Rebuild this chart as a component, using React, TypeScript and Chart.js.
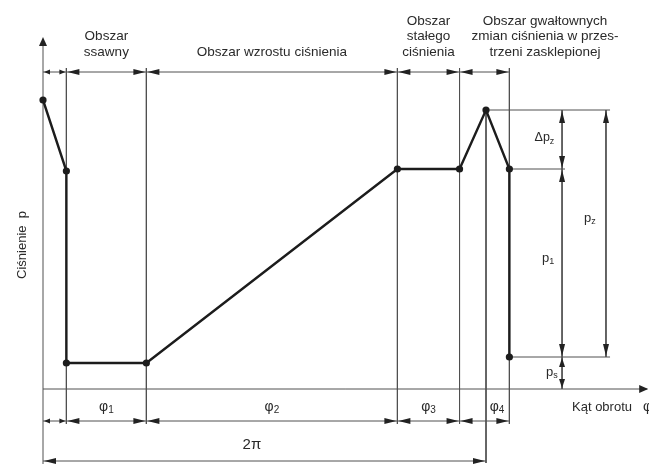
import React, { useEffect, useRef } from "react";
import { Chart, registerables } from "chart.js";

Chart.register(...registerables);

// rotation angle in degrees (2π = 360), pressure in arbitrary units
const phaseBounds = [0, 19, 84, 288, 338.5, 379];
const fullTurn = 360;
const curveAngle = [0, 19, 19, 84, 288, 338.5, 360, 379, 379];
const curvePressure = [28.9, 21.8, 2.6, 2.6, 22.0, 22.0, 27.9, 22.0, 3.2];
const pressurePeak = 27.9; // p_z level
const pressureP1 = 22.0; // p_1 level
const pressurePs = 3.2; // p_s level
const phaseLabels = ["1", "2", "3", "4"];
const regionLabels = [
  ["Obszar", "ssawny"],
  ["Obszar wzrostu ciśnienia"],
  ["Obszar", "stałego", "ciśnienia"],
  ["Obszar gwałtownych", "zmian ciśnienia w przes-", "trzeni zasklepionej"],
];
const axisTitleY = "Ciśnienie  p";
const axisTitleX = "Kąt obrotu";

const K = 443 / 360;
const X_MIN = -43 / K;
const X_MAX = 606 / K;
const Y_MIN = -7.5;
const Y_MAX = 38.9;

const FONT = '"Liberation Sans", Arial, sans-serif';
const TXT = "#2a2a2a";
const LINE = "#505050";

type P = { x: number; y: number | null };

function seg(arr: P[], x1: number, y1: number, x2: number, y2: number) {
  arr.push({ x: x1, y: y1 }, { x: x2, y: y2 }, { x: x2, y: null });
}

function buildGuides(): P[] {
  const g: P[] = [];
  // y axis
  seg(g, 0, Y_MIN, 0, 34.6);
  // x axis
  seg(g, 0, 0, 491, 0);
  // extension lines of phase bounds
  phaseBounds.slice(1).forEach((b) => seg(g, b, 32.1, b, -3.5));
  // peak extension (2π)
  seg(g, fullTurn, pressurePeak, fullTurn, -7.4);
  // top and bottom dimension lines
  seg(g, phaseBounds[0], 31.7, phaseBounds[phaseBounds.length - 1], 31.7);
  seg(g, phaseBounds[0], -3.2, phaseBounds[phaseBounds.length - 1], -3.2);
  seg(g, 0, -7.2, fullTurn, -7.2);
  // right side extension lines
  seg(g, fullTurn + 2, pressurePeak, 460.8, pressurePeak);
  seg(g, 379, pressureP1, 424.2, pressureP1);
  seg(g, 379, pressurePs, 460.8, pressurePs);
  // vertical dimension lines
  seg(g, 421.8, pressurePeak, 421.8, 0);
  seg(g, 457.5, pressurePeak, 457.5, pressurePs);
  return g;
}

function arrowHead(
  ctx: CanvasRenderingContext2D,
  tx: number,
  ty: number,
  dir: "l" | "r" | "u" | "d",
  len: number,
  half: number
) {
  ctx.beginPath();
  ctx.moveTo(tx, ty);
  if (dir === "l") {
    ctx.lineTo(tx + len, ty - half);
    ctx.lineTo(tx + len, ty + half);
  } else if (dir === "r") {
    ctx.lineTo(tx - len, ty - half);
    ctx.lineTo(tx - len, ty + half);
  } else if (dir === "u") {
    ctx.lineTo(tx - half, ty + len);
    ctx.lineTo(tx + half, ty + len);
  } else {
    ctx.lineTo(tx - half, ty - len);
    ctx.lineTo(tx + half, ty - len);
  }
  ctx.closePath();
  ctx.fill();
}

function subText(
  ctx: CanvasRenderingContext2D,
  main: string,
  sub: string,
  cx: number,
  cy: number,
  size: number,
  align: "center" | "left" | "right" = "center"
) {
  ctx.font = `${size}px ${FONT}`;
  const w1 = ctx.measureText(main).width;
  ctx.font = `${Math.round(size * 0.72)}px ${FONT}`;
  const w2 = ctx.measureText(sub).width;
  const tot = w1 + w2;
  let x0 = cx - tot / 2;
  if (align === "left") x0 = cx;
  if (align === "right") x0 = cx - tot;
  ctx.textAlign = "left";
  ctx.textBaseline = "middle";
  ctx.font = `${size}px ${FONT}`;
  ctx.fillText(main, x0, cy);
  ctx.font = `${Math.round(size * 0.72)}px ${FONT}`;
  ctx.fillText(sub, x0 + w1, cy + size * 0.25);
}

const annotations = {
  id: "annotations",
  afterDatasetsDraw(chart: any) {
    const ctx: CanvasRenderingContext2D = chart.ctx;
    const xs = chart.scales.x;
    const ys = chart.scales.y;
    const px = (v: number) => xs.getPixelForValue(v);
    const py = (v: number) => ys.getPixelForValue(v);
    ctx.save();
    ctx.fillStyle = "#222";

    // axis arrows
    arrowHead(ctx, px(0), py(35.2), "u", 9, 4);
    arrowHead(ctx, px(491.8), py(0), "r", 9, 4);

    // horizontal dimension chains
    const dimH = (a: number, b: number, y: number) => {
      const len = Math.abs(px(b) - px(a)) < 30 ? 6 : 12;
      const half = Math.abs(px(b) - px(a)) < 30 ? 2.5 : 3;
      arrowHead(ctx, px(a) + 1, py(y), "l", len, half);
      arrowHead(ctx, px(b) - 1, py(y), "r", len, half);
    };
    for (let i = 0; i < phaseBounds.length - 1; i++) {
      dimH(phaseBounds[i], phaseBounds[i + 1], 31.7);
      dimH(phaseBounds[i], phaseBounds[i + 1], -3.2);
    }
    dimH(0, fullTurn, -7.2);

    // vertical dimension arrows
    const dimV = (x: number, top: number, bot: number, len: number) => {
      arrowHead(ctx, px(x), py(top) + 1, "u", len, 3);
      arrowHead(ctx, px(x), py(bot) - 1, "d", len, 3);
    };
    dimV(421.8, pressurePeak, pressureP1, 12);
    dimV(421.8, pressureP1, pressurePs, 12);
    dimV(421.8, pressurePs, 0, 9);
    dimV(457.5, pressurePeak, pressurePs, 12);

    ctx.fillStyle = TXT;
    // region labels
    const regionCx = [
      (phaseBounds[1] + phaseBounds[2]) / 2,
      (phaseBounds[2] + phaseBounds[3]) / 2,
      (phaseBounds[3] + phaseBounds[4]) / 2,
      408,
    ];
    ctx.font = `13.5px ${FONT}`;
    ctx.textAlign = "center";
    ctx.textBaseline = "middle";
    regionLabels.forEach((lines, i) => {
      const n = lines.length;
      lines.forEach((t, j) => {
        const yPix = py(33.65) - (n - 1 - j) * 15.8;
        ctx.fillText(t, px(regionCx[i]), yPix);
      });
    });

    // phase labels φ1..φ4
    phaseLabels.forEach((s, i) => {
      let cx = (phaseBounds[i + 1] + phaseBounds[i + 2]) / 2;
      if (i === 3) cx = 369;
      subText(ctx, "φ", s, px(cx), py(-1.8), 14);
    });

    // 2π
    ctx.font = `15px ${FONT}`;
    ctx.textAlign = "center";
    ctx.textBaseline = "middle";
    ctx.fillText("2π", px(169.8), py(-5.6));

    // pressure labels
    subText(ctx, "Δp", "z", px(407.5), py(25.1), 12.5);
    subText(ctx, "p", "1", px(410.4), py(13.1), 13);
    subText(ctx, "p", "z", px(444.5), py(17.1), 13);
    subText(ctx, "p", "s", px(413.6), py(1.7), 13);

    // x axis title
    ctx.font = `13px ${FONT}`;
    ctx.textAlign = "left";
    ctx.textBaseline = "middle";
    ctx.fillText(axisTitleX, px(429.9), py(-1.8));
    ctx.font = `14px ${FONT}`;
    ctx.fillText("φ", px(487.5), py(-1.8));

    // y axis title
    ctx.save();
    ctx.translate(px(-17.1), py(14.4));
    ctx.rotate(-Math.PI / 2);
    ctx.font = `13px ${FONT}`;
    ctx.textAlign = "center";
    ctx.textBaseline = "middle";
    ctx.fillText(axisTitleY, 0, 0);
    ctx.restore();

    ctx.restore();
  },
};

export default function App() {
  const ref = useRef<HTMLCanvasElement | null>(null);
  useEffect(() => {
    if (!ref.current) return;
    const curve = curveAngle.map((x, i) => ({ x, y: curvePressure[i] }));
    const chart = new Chart(ref.current, {
      type: "line",
      data: {
        datasets: [
          {
            data: curve,
            borderColor: "#1c1c1c",
            backgroundColor: "#1c1c1c",
            borderWidth: 2.4,
            pointRadius: 3.6,
            pointBackgroundColor: "#1c1c1c",
            pointBorderWidth: 0,
            tension: 0,
            fill: false,
            clip: false as any,
          },
          {
            data: buildGuides() as any,
            borderColor: LINE,
            borderWidth: 1,
            pointRadius: 0,
            tension: 0,
            spanGaps: false,
            fill: false,
            clip: false as any,
          },
        ],
      },
      options: {
        animation: false,
        responsive: true,
        maintainAspectRatio: false,
        events: [],
        layout: { padding: 0, autoPadding: false } as any,
        plugins: {
          legend: { display: false },
          tooltip: { enabled: false },
          title: { display: false },
        },
        scales: {
          x: { type: "linear", min: X_MIN, max: X_MAX, display: false },
          y: { type: "linear", min: Y_MIN, max: Y_MAX, display: false },
        },
      },
      plugins: [annotations],
    });
    return () => chart.destroy();
  }, []);
  return (
    <div
      style={{
        position: "fixed",
        left: 0,
        top: 0,
        width: 649,
        height: 464,
        background: "#fff",
      }}
    >
      <canvas ref={ref} />
    </div>
  );
}
